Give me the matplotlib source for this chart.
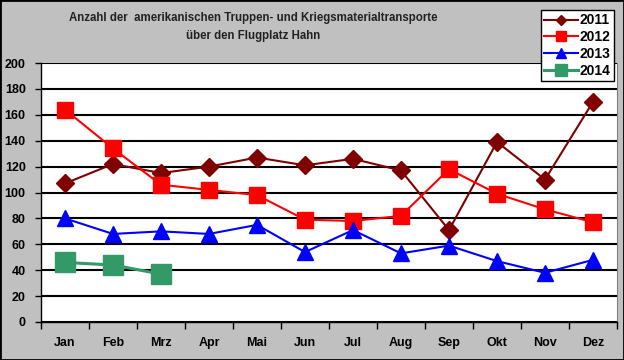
import matplotlib.pyplot as plt
from matplotlib.patches import Rectangle

plt.rcParams['font.family'] = ['Liberation Sans', 'DejaVu Sans']
plt.rcParams['font.weight'] = 'bold'

months = ["Jan", "Feb", "Mrz", "Apr", "Mai", "Jun", "Jul", "Aug", "Sep", "Okt", "Nov", "Dez"]
v2011 = [107, 122, 115, 120, 127, 121, 126, 117, 71, 139, 110, 170]
v2012 = [164, 134, 106, 102, 98, 79, 78, 82, 118, 99, 87, 77]
v2013 = [80, 68, 70, 68, 75, 54, 71, 53, 59, 47, 38, 48]
v2014 = [46, 44, 37]

fig = plt.figure(figsize=(6.24, 3.6), dpi=100, facecolor='#C0C0C0')
ax = fig.add_axes([41/624, 1 - 322/360, 576/624, 259/360])
ax.set_facecolor('white')

x = list(range(len(months)))
ax.plot(x, v2011, color='#800000', marker='D', markersize=9, linewidth=1.5, label='2011')
ax.plot(x, v2012, color='#FF0000', marker='s', markersize=11, linewidth=1.5, label='2012')
ax.plot(x, v2013, color='#0000FF', marker='^', markersize=12, linewidth=1.5, label='2013')
ax.plot(x[:len(v2014)], v2014, color='#339966', marker='s', markersize=14, linewidth=2.2, label='2014')

ax.set_xlim(-0.5, 11.5)
ax.set_ylim(0, 200)
ax.set_yticks(range(0, 201, 20))
ax.yaxis.grid(True, color='black', linewidth=1.5)
ax.set_axisbelow(True)
# Striche zwischen den Monaten, Beschriftung in der Mitte
ax.set_xticks([i - 0.5 for i in range(13)], minor=False)
ax.set_xticklabels([])
ax.set_xticks(x, minor=True)
ax.set_xticklabels(months, minor=True, fontsize=9, fontweight='bold')
ax.tick_params(axis='x', which='minor', length=0, pad=11)
ax.tick_params(axis='x', which='major', direction='out', length=5, width=1)
ax.tick_params(axis='y', direction='out', length=4, width=1, labelsize=9, pad=7)
for lbl in ax.get_yticklabels():
    lbl.set_fontweight('bold')
ax.spines['top'].set_visible(False)
ax.spines['right'].set_color('#808080')
ax.spines['left'].set_linewidth(1)
ax.spines['bottom'].set_linewidth(1)

fig.text(253/624, 1 - 18/360, "Anzahl der  amerikanischen Truppen- und Kriegsmaterialtransporte",
         ha='center', va='center', fontsize=8.3, fontweight='bold', color='#222222')
fig.text(253/624, 1 - 36/360, "über den Flugplatz Hahn",
         ha='center', va='center', fontsize=8.3, fontweight='bold', color='#222222')

leg = fig.legend(loc='upper left', bbox_to_anchor=(541/624, 1 - 10/360), frameon=True,
                 fancybox=False, edgecolor='black', framealpha=1, fontsize=10,
                 handlelength=2.4, handletextpad=0.1, borderpad=0.25, labelspacing=0.2,
                 markerscale=0.6, borderaxespad=0)
leg.get_frame().set_linewidth(1)

fig.patches.append(Rectangle((0, 0), 1, 1, transform=fig.transFigure, fill=False,
                             edgecolor='black', linewidth=2))

fig.savefig('out.png', dpi=100, facecolor=fig.get_facecolor())
